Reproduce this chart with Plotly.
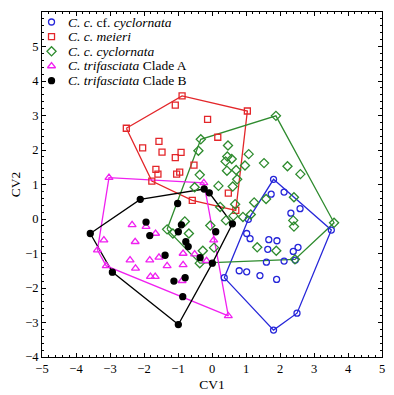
import plotly.graph_objects as go

# ---- data (CV1, CV2) ----
blue_x = [1.81, 1.74, 2.12, 2.32, 2.59, 1.07, 1.02, 1.12, 1.67, 1.91, 1.64, 2.39, 2.53, 1.60, 2.12, 2.45, 0.80, 1.02, 1.41, 1.90, 0.36, 1.81, 2.50, 3.51]
blue_y = [1.15, 0.72, 0.78, 0.17, 0.30, -0.01, -0.42, -0.57, -0.60, -0.63, -0.88, -0.94, -0.82, -1.25, -1.22, -1.19, -1.50, -1.53, -1.64, -1.75, -1.70, -3.22, -2.73, -0.32]

red_x = [-2.52, -0.88, -1.08, 1.04, -0.13, 0.17, -2.04, -1.56, -1.47, -1.08, -0.91, -0.53, -1.65, -1.59, -1.04, -0.95, -1.77, -0.58, 0.48, 0.70]
red_y = [2.63, 3.57, 3.30, 3.13, 2.89, 2.37, 2.06, 2.25, 1.94, 1.78, 1.93, 1.56, 1.44, 1.30, 1.30, 1.36, 1.10, 0.54, 0.75, 0.25]

green_x = [1.88, -0.33, -0.40, 0.47, 1.08, 0.40, 0.45, 0.58, 0.97, 1.53, 2.22, 2.60, 0.71, 0.44, -0.36, 0.74, 0.61, -0.51, 0.19, 0.24, 1.24, 1.59, 2.41, 0.68, 0.91, 1.14, 0.41, 0.63, -0.80, -0.05, 2.39, 2.41, -1.32, -1.15, -0.68, -0.27, 0.06, 1.33, 1.89, 3.59, 2.44, -0.36]
green_y = [2.99, 2.31, 1.98, 2.13, 1.88, 1.67, 1.81, 1.74, 1.55, 1.62, 1.53, 1.30, 1.42, 1.40, 1.28, 1.15, 0.94, 0.92, 0.96, 0.35, 0.48, 0.58, 0.63, 0.43, 0.06, 0.13, -0.04, 0.09, -0.07, -0.19, -0.04, -0.22, -0.30, -0.42, -0.42, -0.92, -0.83, -0.82, -0.92, -0.11, -1.17, -1.28]

mag_x = [-3.03, -0.24, -2.35, -1.94, -1.66, -3.18, -2.26, -3.37, 0.05, -0.85, -0.51, -0.16, -2.41, -1.83, -1.56, -2.25, -1.32, -0.85, -1.81, -1.67, -0.88, -3.11, 0.48]
mag_y = [1.20, 1.05, -0.17, -0.22, -0.42, -0.61, -0.66, -0.90, -0.61, -1.00, -1.02, -1.21, -1.19, -1.19, -1.11, -1.43, -1.36, -1.33, -1.67, -1.67, -1.79, -1.36, -2.81]

black_x = [-0.23, -0.08, -2.11, -1.01, 0.60, -3.58, -1.94, -1.83, -0.90, -0.99, -0.77, -0.70, 0.11, -1.38, -0.35, 0.01, -0.79, -1.12, -0.86, -0.99, -2.93]
black_y = [0.87, 0.76, 0.57, 0.45, -0.14, -0.42, -0.09, -0.48, -0.17, -0.37, -0.66, -0.80, -0.37, -1.05, -1.12, -1.28, -1.70, -1.80, -2.25, -3.06, -1.54]

names = ["<i>C. c.</i> cf. <i>cyclornata</i>", "<i>C. c. meieri</i>", "<i>C. c. cyclornata</i>",
         "<i>C. trifasciata</i> Clade A", "<i>C. trifasciata</i> Clade B"]
xs_ticks = list(range(-5, 6))
ys_ticks = list(range(-4, 7))


def hull(xs, ys):
    pts = sorted(set(zip(xs, ys)))
    def cross(o, a, b):
        return (a[0]-o[0])*(b[1]-o[1]) - (a[1]-o[1])*(b[0]-o[0])
    lower, upper = [], []
    for p in pts:
        while len(lower) >= 2 and cross(lower[-2], lower[-1], p) <= 0:
            lower.pop()
        lower.append(p)
    for p in reversed(pts):
        while len(upper) >= 2 and cross(upper[-2], upper[-1], p) <= 0:
            upper.pop()
        upper.append(p)
    h = lower[:-1] + upper[:-1]
    h.append(h[0])
    return [p[0] for p in h], [p[1] for p in h]


groups = [
    (blue_x, blue_y, "#2626D9", "circle-open", 6),
    (red_x, red_y, "#E3262A", "square-open", 6),
    (green_x, green_y, "#2E8B2E", "diamond-open", 7),
    (mag_x, mag_y, "#F020F0", "triangle-up-open", 7),
    (black_x, black_y, "#000000", "circle", 6),
]

fig = go.Figure()
for (gx, gy, col, sym, sz), nm in zip(groups, names):
    hx, hy = hull(gx, gy)
    fig.add_trace(go.Scatter(x=hx, y=hy, mode="lines", line=dict(color=col, width=1.3),
                             showlegend=False, hoverinfo="skip"))
for (gx, gy, col, sym, sz), nm in zip(groups, names):
    fig.add_trace(go.Scatter(x=gx, y=gy, mode="markers", name=nm, showlegend=False,
                             marker=dict(symbol=sym, size=sz, color=col,
                                         line=dict(color=col, width=1.3))))

# ---- compact legend (overlay axis in [0,1] units) ----
leg_top, leg_step, leg_mx, leg_tx = 0.971, 0.0425, 0.028, 0.072
for i, ((gx, gy, col, sym, sz), nm) in enumerate(zip(groups, names)):
    ly = leg_top - i * leg_step
    fig.add_trace(go.Scatter(x=[leg_mx], y=[ly], xaxis="x2", yaxis="y2", mode="markers",
                             showlegend=False, hoverinfo="skip",
                             marker=dict(symbol=sym, size=sz, color=col, line=dict(color=col, width=1.3))))
    fig.add_annotation(x=leg_tx, y=ly, xref="x2", yref="y2", text=nm, showarrow=False,
                       xanchor="left", yanchor="middle", font=dict(size=13.5, color="black"))

axis_common = dict(showline=True, linecolor="black", linewidth=1, mirror="ticks",
                   ticks="inside", ticklen=4, tickcolor="black", showgrid=False,
                   zeroline=False, automargin=False, tickfont=dict(size=12.5, color="black"),
                   minor=dict(ticks="inside", ticklen=2, dtick=0.2, tickcolor="black", showgrid=False))

# the page body adds an 8px offset, so the figure is sized to fit the window
fig.update_layout(
    width=386, height=387,
    margin=dict(l=34, r=12, t=4, b=38),
    paper_bgcolor="white", plot_bgcolor="white",
    font=dict(family="Liberation Serif", size=13, color="black"),
    showlegend=False,
    xaxis=dict(range=[-5, 5], tickvals=xs_ticks, title=dict(text="CV1", standoff=4, font=dict(size=13.5)), **axis_common),
    yaxis=dict(range=[-4, 6], tickvals=ys_ticks, title=dict(text="CV2", standoff=6, font=dict(size=13.5)), **axis_common),
    xaxis2=dict(range=[0, 1], overlaying="x", visible=False, fixedrange=True),
    yaxis2=dict(range=[0, 1], overlaying="y", visible=False, fixedrange=True),
)

fig.write_html("out.html")
